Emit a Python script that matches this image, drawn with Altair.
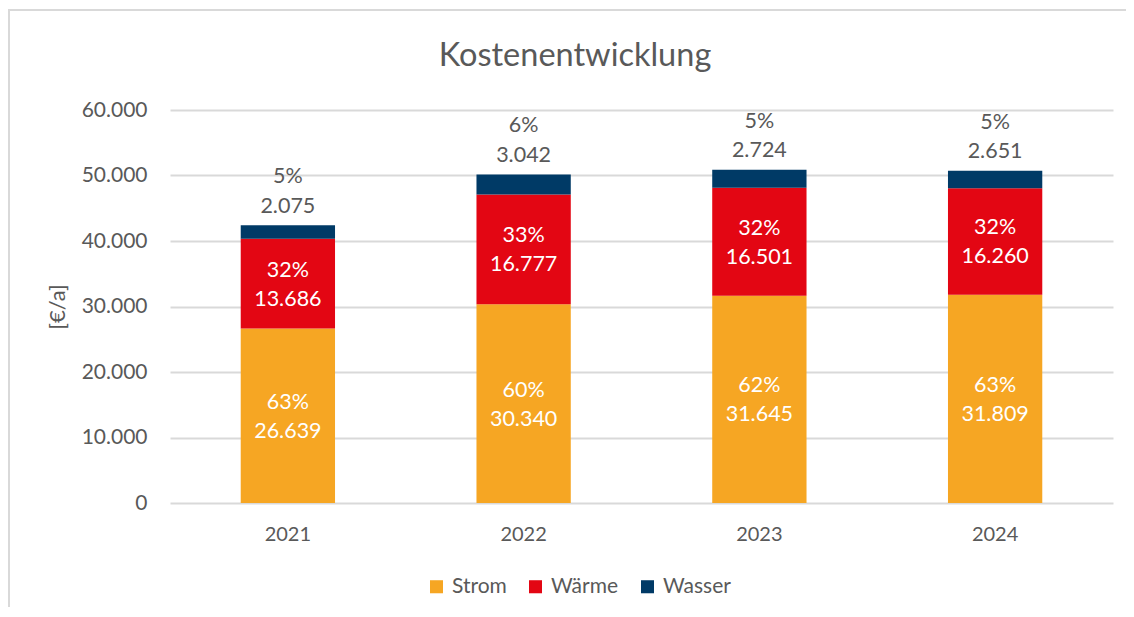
import altair as alt
import pandas as pd

years = ["2021", "2022", "2023", "2024"]
series = ["Strom", "Wärme", "Wasser"]
strom = [26639, 30340, 31645, 31809]
waerme = [13686, 16777, 16501, 16260]
wasser = [2075, 3042, 2724, 2651]
pct_strom = [63, 60, 62, 63]
pct_waerme = [32, 33, 32, 32]
pct_wasser = [5, 6, 5, 5]
colors = ["#F6A623", "#E30613", "#003A66"]
y_ticks = [0, 10000, 20000, 30000, 40000, 50000, 60000]
chart_title = "Kostenentwicklung"

FONT = "Lato"
GRAY = "#595959"


def de(v):
    return f"{v:,}".replace(",", ".")


rows = []
for i, yr in enumerate(years):
    vals = [strom[i], waerme[i], wasser[i]]
    pcts = [pct_strom[i], pct_waerme[i], pct_wasser[i]]
    base = 0
    for s, v, p in zip(series, vals, pcts):
        rows.append({
            "year": yr, "series": s, "value": v,
            "start": base, "end": base + v, "mid": base + v / 2,
            "label": f"{p}%\n{de(v)}", "order": series.index(s),
        })
        base += v
df = pd.DataFrame(rows)

x_enc = alt.X("year:N", title=None, sort=years,
              scale=alt.Scale(paddingInner=0.6, paddingOuter=0.3),
              axis=alt.Axis(labelAngle=0, labelFont=FONT, labelFontSize=20,
                            labelColor=GRAY, labelPadding=21, ticks=False,
                            domain=False))

bars = alt.Chart(df).mark_bar().encode(
    x=x_enc,
    y=alt.Y("start:Q", title="[€/a]",
            scale=alt.Scale(domain=[0, 60000], nice=False),
            axis=alt.Axis(values=y_ticks, labelExpr="replace(format(datum.value, ','), ',', '.')",
                          labelFont=FONT, labelFontSize=21, labelColor=GRAY,
                          labelPadding=23, ticks=False, domain=False,
                          gridColor="#D9D9D9", gridWidth=2,
                          titleFont=FONT, titleFontSize=22, titleColor=GRAY,
                          titleFontWeight="normal", titlePadding=12)),
    y2="end:Q",
    color=alt.Color("series:N", sort=series,
                    scale=alt.Scale(domain=series, range=colors),
                    legend=alt.Legend(title=None, orient="none", direction="horizontal",
                                      legendX=256, legendY=466,
                                      symbolType="square", symbolSize=170,
                                      symbolStrokeWidth=0,
                                      labelFont=FONT, labelFontSize=21, labelColor=GRAY,
                                      columnPadding=18, labelOffset=5)),
)

inner = alt.Chart(df[df["series"] != "Wasser"]).mark_text(
    lineBreak="\n", baseline="middle", align="center", color="white",
    font=FONT, fontSize=21.5, lineHeight=29, dy=-13,
).encode(x=alt.X("year:N", sort=years), y="mid:Q", text="label:N")

top = alt.Chart(df[df["series"] == "Wasser"]).mark_text(
    lineBreak="\n", baseline="alphabetic", align="center", color=GRAY,
    font=FONT, fontSize=21.5, lineHeight=29.5, dy=-42,
).encode(x=alt.X("year:N", sort=years), y="end:Q", text="label:N")

title = alt.Chart(pd.DataFrame({"t": [chart_title]})).mark_text(
    font=FONT, fontSize=32.5, color=GRAY, align="center", baseline="alphabetic",
).encode(x=alt.value(405), y=alt.value(-44), text="t:N")

frame_top = alt.Chart(df).mark_rule(color="#D9D9D9", strokeWidth=2).encode(
    x=alt.value(-165), x2=alt.value(975), y=alt.value(-100))
frame_left = alt.Chart(df).mark_rule(color="#D9D9D9", strokeWidth=2).encode(
    x=alt.value(-161), y=alt.value(-100), y2=alt.value(510))

chart = alt.layer(bars, inner, top, title, frame_top, frame_left).properties(
    width=943, height=393,
    autosize=alt.AutoSizeParams(type="none"),
    padding={"left": 162, "top": 102, "right": 13, "bottom": 104},
).configure_view(stroke=None)

chart.save("out.html", embed_options={"renderer": "svg", "actions": False})
